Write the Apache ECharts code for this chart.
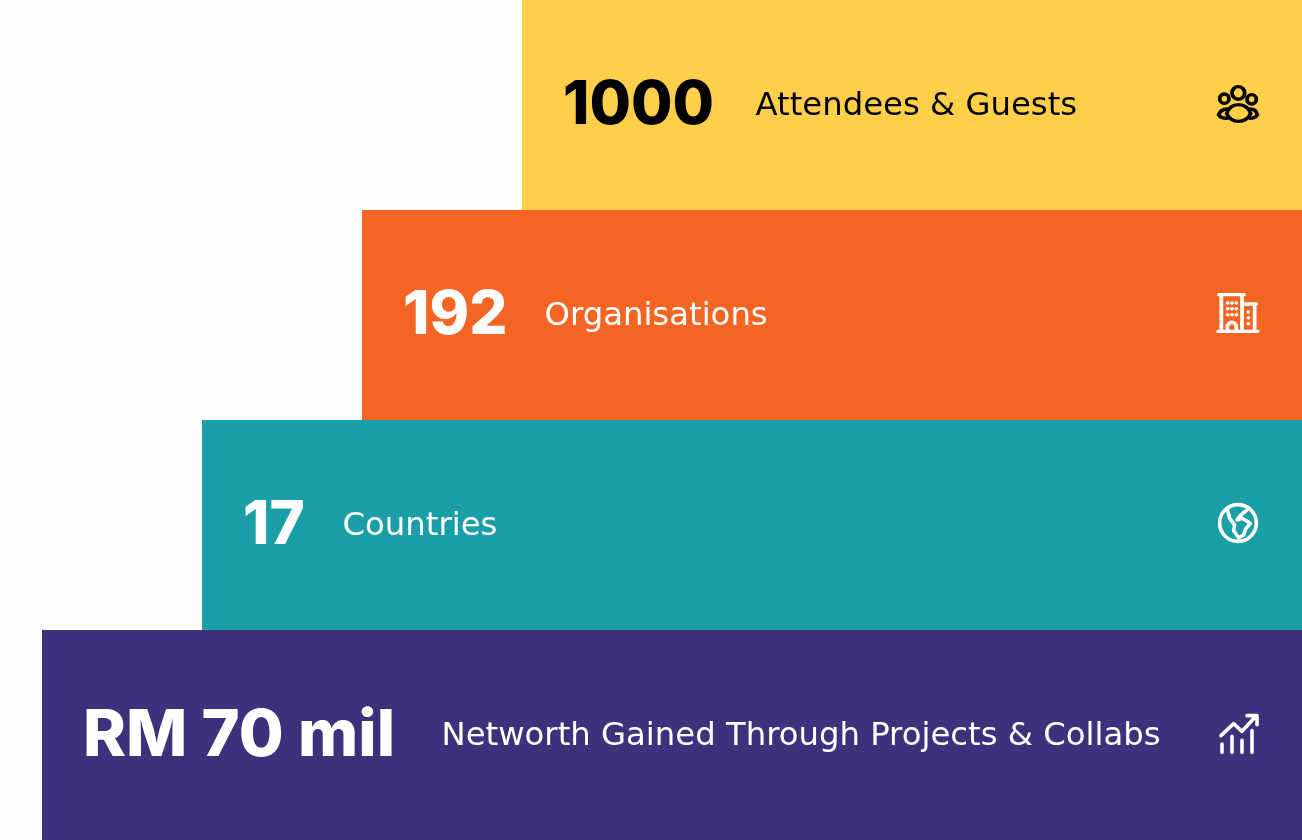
<!DOCTYPE html>
<html><head><meta charset="utf-8">
<style>html,body{margin:0;padding:0;background:#fff}#c{width:1302px;height:840px}</style>
<script src="https://cdn.jsdelivr.net/npm/echarts@6/dist/echarts.min.js"></script></head>
<body><div id="c"></div><script>
const categories = ['Attendees & Guests','Organisations','Countries','Networth Gained Through Projects & Collabs'];
const figures = ['1000','192','17','RM 70 mil'];
const stepLengths = [780,940,1100,1260];

const colors = ['#FFCF4A','#F46524','#1A9FA6','#3D317C'];
const inks = ['#000000','#ffffff','#ffffff','#ffffff'];
const textLeft = [233,182,140,399];
const figureSizes = [60,60,60,65];
const iconPaths = [
 'M94,70A19,19 0 1 1 132,70A19,19 0 1 1 94,70ZM57,87A14,14 0 1 1 85,87A14,14 0 1 1 57,87ZM139,89A14,14 0 1 1 167,89A14,14 0 1 1 139,89ZM78,132C85,112 100,105 113,105C128,105 143,112 150,132C142,148 127,155 113,155C99,155 86,148 78,132ZM80,118C66,118 58,125 54,135C58,142 66,146 80,146M148,118C160,118 168,125 170,135C166,142 158,146 148,146',
 'M55,155H175M58,45H133M65,45V155M127,45V155M133,73H170M165,73V155M83,155V138Q97,118 110,138V155M84,70h.1M97,70h.1M110,70h.1M84,87h.1M97,87h.1M110,87h.1M84,105h.1M97,105h.1M110,105h.1M146,97h.1M146,114h.1M146,132h.1',
 'M58,99A55,55 0 1 1 168,99A55,55 0 1 1 58,99ZM80,55L88,85L103,105L100,122L115,143L130,135L135,118L150,100L125,85L110,90L122,75L142,58',
 'M65,133V158M95,110V158M125,122V158M155,93V158M62,108L100,72L125,95L168,48M140,48H170V75'
];
const iconSizes = [[38.7,34.7],[40,36.7],[36.7,36.7],[36,36.7]];
const iconOffsets = [[0,-1],[0,-2],[0,-2],[1,-1]];
const numFont = '"Inter"', txtFont = '"DejaVu Sans"';

const chart = echarts.init(document.getElementById('c'),null,{renderer:'canvas'});
chart.setOption({
 animation:false, backgroundColor:'#fefefe',
 grid:{left:0,right:0,top:0,bottom:0,containLabel:false},
 xAxis:{type:'value',inverse:true,min:0,max:1302,show:false},
 yAxis:{type:'category',inverse:true,data:categories,show:false},
 series:[
  {type:'bar',barWidth:'100%',barCategoryGap:0,silent:true,
   data:stepLengths.map((v,i)=>({value:v,itemStyle:{color:colors[i]},
     label:{show:true,position:'insideLeft',distance:41,offset:[0,1],formatter:figures[i],color:inks[i],
       fontFamily:numFont,fontWeight:800,fontSize:figureSizes[i]}}))},
  {type:'scatter',silent:true,symbolSize:1,itemStyle:{color:'transparent',opacity:1},
   data:stepLengths.map((v,i)=>({value:[v-textLeft[i],categories[i]],
     label:{show:true,position:'right',distance:0,offset:[0,2],formatter:categories[i],color:inks[i],
       fontFamily:txtFont,fontWeight:'normal',fontSize:32.3,opacity:1}}))},
  {type:'scatter',silent:true,
   data:categories.map((c,i)=>({value:[64,c],symbol:'path://'+iconPaths[i],symbolSize:iconSizes[i],symbolOffset:iconOffsets[i],
     itemStyle:{color:'none',opacity:1,borderColor:inks[i],borderWidth:3.6,borderCap:'round',borderJoin:'round'}}))}
 ]
});
</script></body></html>
